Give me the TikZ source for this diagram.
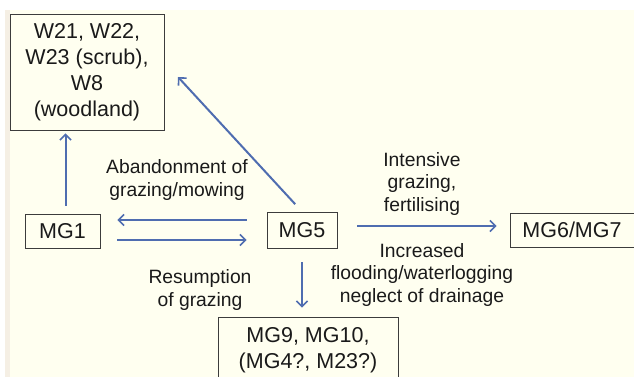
\documentclass[tikz,border=0pt]{standalone}
\usepackage{fontspec}
\setmainfont{Liberation Sans}
\usetikzlibrary{arrows.meta}
\definecolor{cream}{HTML}{FFFFF0}
\definecolor{strip}{HTML}{F5EFE4}
\definecolor{arrblue}{HTML}{4F6DB0}
\definecolor{ink}{HTML}{1A1A1A}
\definecolor{boxline}{HTML}{3C3C3C}
\tikzset{
  box/.style={draw=boxline, line width=0.9pt, text=ink, align=center, inner sep=0pt,
    font=\fontsize{21.5}{26}\selectfont},
  lbl/.style={text=ink, align=center, inner sep=0pt, font=\fontsize{19.3}{22.5}\selectfont},
  arr/.style={draw=arrblue, line width=2pt, -{Straight Barb[length=5.5pt,width=11pt,line width=1.6pt]}}
}
\begin{document}
\begin{tikzpicture}[x=1pt,y=-1pt]
\useasboundingbox (0,0) rectangle (634,377);
\clip (0,0) rectangle (634,377);
\fill[white] (0,0) rectangle (634,377);
\fill[strip] (5,10) rectangle (10,377);
\fill[cream] (10,10) rectangle (634,377);

\node[box, minimum width=154pt, minimum height=116pt] (top) at (87,72)
  {W21, W22,\\W23 (scrub),\\W8\\(woodland)};
\node[box, minimum width=75pt, minimum height=34pt] (mg1) at (62.5,231) {MG1};
\node[box, minimum width=70pt, minimum height=36pt] (mg5) at (302,230) {MG5};
\node[box, minimum width=124pt, minimum height=34pt] (mg6) at (572,230) {MG6/MG7};
\node[box, minimum width=180pt, minimum height=66pt] (bot) at (308,350)
  {MG9, MG10,\\(MG4?, M23?)};

\node[lbl] (l1) at (177,180) {Abandonment of\\grazing/mowing};
\node[lbl] (l2) at (200,290) {Resumption\\of grazing};
\node[lbl] (l3) at (422,184) {Intensive\\grazing,\\fertilising};
\node[lbl] (l4) at (422,275) {Increased\\flooding/waterlogging\\neglect of drainage};

\coordinate (diagtip) at (178,77);

\draw[arr, shorten <=8pt, shorten >=3pt] ([xshift=3pt]mg1.north) -- ([xshift=3pt]mg1.north |- top.south);
\draw[arr, shorten <=20pt, shorten >=17pt] ([yshift=10pt]mg5.west) -- ([yshift=11pt]mg1.east);
\draw[arr, shorten <=17pt, shorten >=20pt] ([yshift=-9pt]mg1.east) -- ([yshift=-10pt]mg5.west);
\draw[arr, shorten <=10pt] (mg5.north) -- (diagtip);
\draw[arr, shorten <=20pt, shorten >=13pt] ([yshift=4pt]mg5.east) -- ([yshift=4pt]mg6.west);
\draw[arr, shorten <=14pt, shorten >=9pt] (mg5.south) -- (mg5.south |- bot.north);
\end{tikzpicture}
\end{document}
